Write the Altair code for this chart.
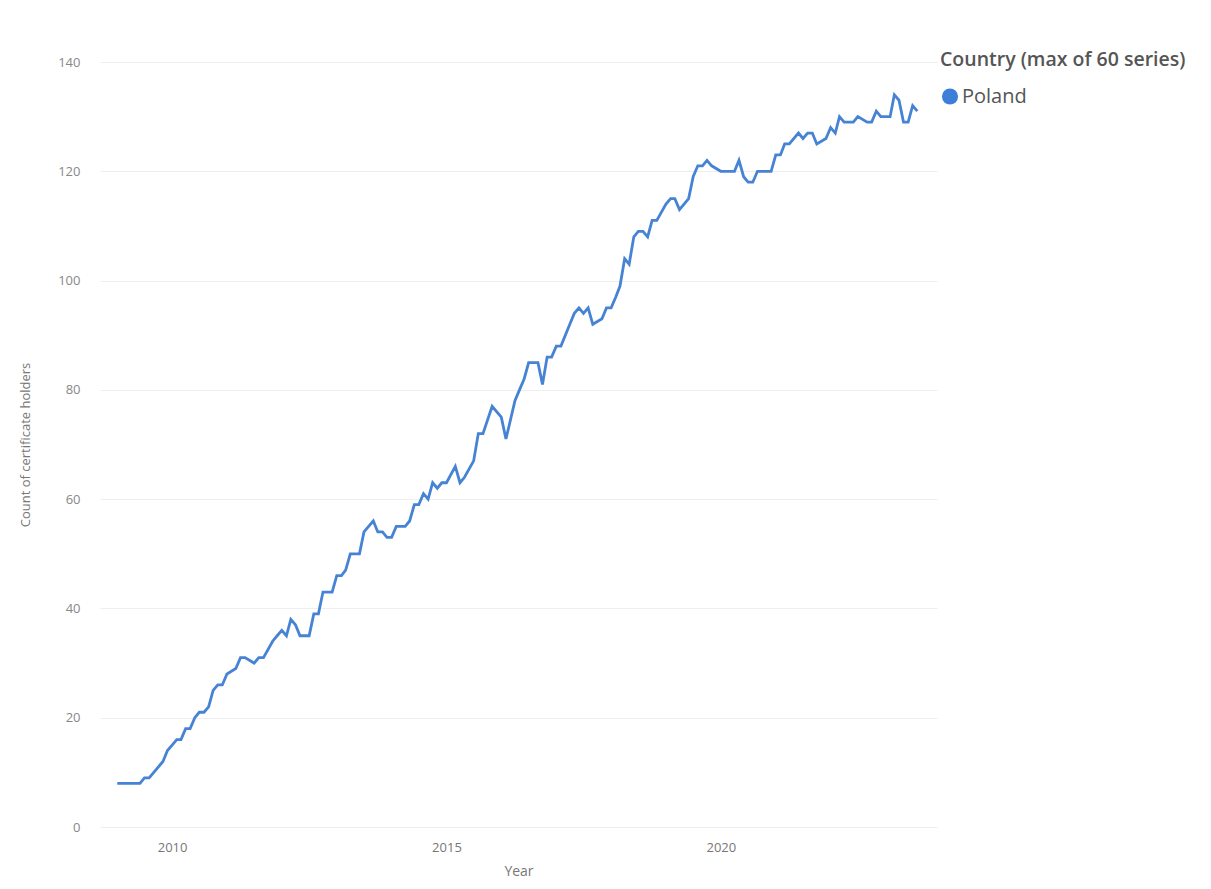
import altair as alt
import pandas as pd

# Vertex months (months after Jan 2009) and counts
month_index = [0, 5, 6, 7, 8, 10, 11, 12, 13, 14, 15, 16, 17, 18, 19, 20, 21, 22, 23, 24,
               26, 27, 28, 30, 31, 32, 34, 35, 36, 37, 38, 39, 40, 42, 43, 44, 45, 47, 48, 49,
               50, 51, 53, 54, 55, 56, 57, 58, 59, 60, 61, 63, 64, 65, 66, 67, 68, 69, 70, 71,
               72, 74, 75, 76, 78, 79, 80, 82, 84, 85, 87, 88, 89, 90, 91, 92, 93, 94, 95, 96,
               97, 99, 100, 101, 102, 103, 104, 106, 107, 108, 109, 110, 111, 112, 113, 114, 115, 116, 117, 118,
               120, 121, 122, 123, 125, 126, 127, 128, 129, 130, 132, 135, 136, 137, 138, 139, 140, 143, 144, 145,
               146, 147, 149, 150, 151, 152, 153, 155, 156, 157, 158, 159, 161, 162, 164, 165, 166, 167, 169, 170,
               171, 172, 173, 174, 175]
holders = [8, 8, 9, 9, 10, 12, 14, 15, 16, 16, 18, 18, 20, 21, 21, 22, 25, 26, 26, 28,
           29, 31, 31, 30, 31, 31, 34, 35, 36, 35, 38, 37, 35, 35, 39, 39, 43, 43, 46, 46,
           47, 50, 50, 54, 55, 56, 54, 54, 53, 53, 55, 55, 56, 59, 59, 61, 60, 63, 62, 63,
           63, 66, 63, 64, 67, 72, 72, 77, 75, 71, 78, 80, 82, 85, 85, 85, 81, 86, 86, 88,
           88, 92, 94, 95, 94, 95, 92, 93, 95, 95, 97, 99, 104, 103, 108, 109, 109, 108, 111, 111,
           114, 115, 115, 113, 115, 119, 121, 121, 122, 121, 120, 120, 122, 119, 118, 118, 120, 120, 123, 123,
           125, 125, 127, 126, 127, 127, 125, 126, 128, 127, 130, 129, 129, 130, 129, 129, 131, 130, 130, 134,
           133, 129, 129, 132, 131]
country = ["Poland"] * len(holders)

dates = [pd.Timestamp(2009 + m // 12, m % 12 + 1, 1) for m in month_index]
df = pd.DataFrame({"Year": dates, "Count": holders, "Country": country})

FONT = "Open Sans"

chart = alt.Chart(df).mark_line(strokeWidth=2.8, interpolate="linear").encode(
    x=alt.X("Year:T",
            scale=alt.Scale(domain=[pd.Timestamp(2008, 9, 8).isoformat(), pd.Timestamp(2023, 12, 10).isoformat()]),
            axis=alt.Axis(title="Year", format="%Y", tickCount=alt.TickCount(interval="year", step=5),
                          grid=False, domain=False, ticks=False, labelPadding=14,
                          labelColor="#777777", labelFontSize=13, titleColor="#777777",
                          titleFontSize=14, titleFontWeight="normal", titlePadding=10, labelFont=FONT, titleFont=FONT)),
    y=alt.Y("Count:Q",
            scale=alt.Scale(domain=[0, 140], nice=False),
            axis=alt.Axis(title="Count of certificate holders", values=[0, 20, 40, 60, 80, 100, 120, 140],
                          domain=False, ticks=False, labelPadding=20, gridColor="#eeeeee",
                          labelColor="#888888", labelFontSize=13, titleColor="#777777",
                          titleFontSize=13, titleFontWeight="normal", titlePadding=25, labelFont=FONT, titleFont=FONT)),
    color=alt.Color("Country:N",
                    scale=alt.Scale(range=["#4683d4"]),
                    legend=alt.Legend(title="Country (max of 60 series)", orient="none",
                                      legendX=840, legendY=-11, symbolType="circle", symbolSize=260,
                                      symbolFillColor="#3d7fd8", symbolStrokeWidth=0,
                                      titleFontSize=19.5, titleFontWeight=600, titleColor="#555555",
                                      titleLimit=400, labelLimit=300,
                                      labelFontSize=20, labelColor="#555555", labelOffset=2,
                                      titlePadding=16, titleFont=FONT, labelFont=FONT)),
).properties(
    width=837, height=765,
    autosize=alt.AutoSizeParams(type="none"),
    padding={"left": 92, "top": 54, "right": 262, "bottom": 53},
).configure_view(stroke=None)

chart.save("out.html", embed_options={"renderer": "svg", "actions": False})
